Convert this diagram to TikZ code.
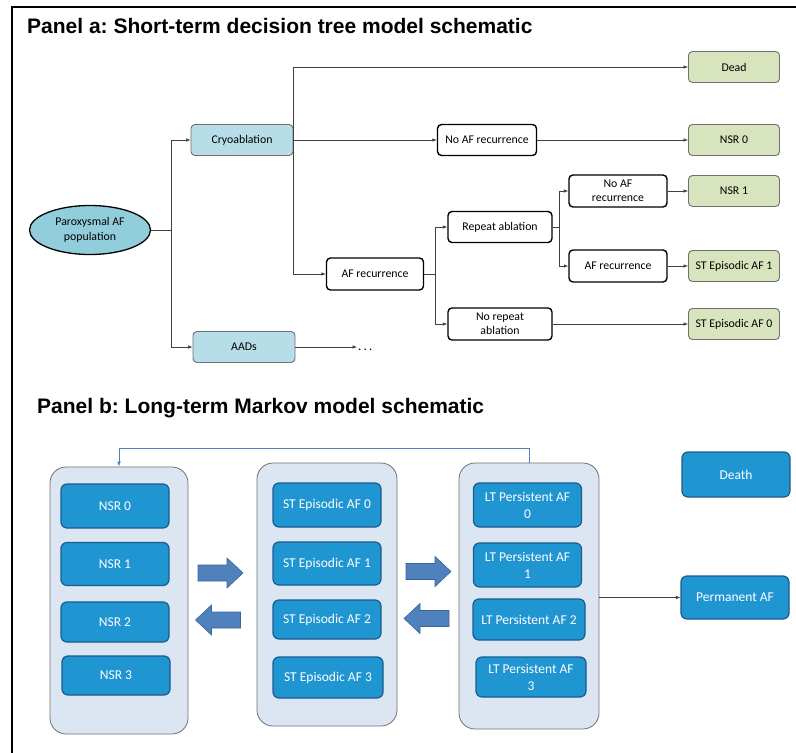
\documentclass[tikz,border=0pt]{standalone}
\usepackage{fontspec}
\setmainfont{Carlito}
\newfontfamily\titlefont{Liberation Sans}
\usetikzlibrary{arrows.meta,shapes.geometric}
\frenchspacing

\definecolor{popblue}{HTML}{92CDDC}
\definecolor{treeblue}{HTML}{B7DEE8}
\definecolor{outgreen}{HTML}{D7E4BD}
\definecolor{boxgrey}{HTML}{6F6F6F}
\definecolor{groupbg}{HTML}{DCE6F2}
\definecolor{statefill}{HTML}{1F95D2}
\definecolor{stateedge}{HTML}{1B5C8C}
\definecolor{bigarrow}{HTML}{4F81BD}
\definecolor{bigarrowedge}{HTML}{3A6596}

\tikzset{
  paneltitle/.style={anchor=west, inner sep=0pt, font=\titlefont\bfseries\fontsize{21}{24}\selectfont},
  treetext/.style={font=\fontsize{11.8}{14.5}\selectfont, align=center, inner sep=1pt},
  popnode/.style={ellipse, draw=black, line width=1.3pt, fill=popblue, treetext,
    minimum width=121pt, minimum height=49pt},
  armbox/.style={rectangle, rounded corners=4pt, draw=boxgrey, line width=0.9pt, fill=treeblue, treetext,
    minimum width=102pt, minimum height=31pt},
  eventbox/.style={rectangle, rounded corners=4pt, draw=black, line width=1.4pt, fill=white, treetext,
    minimum height=31pt},
  endbox/.style={rectangle, rounded corners=4pt, draw=boxgrey, line width=0.9pt, fill=outgreen, treetext,
    minimum width=91pt, minimum height=31pt},
  branch/.style={draw=black!75, line width=0.6pt, -{Latex[length=4.5pt,width=3.5pt]}},
  groupbox/.style={rectangle, rounded corners=16pt, draw=boxgrey, line width=0.8pt, fill=groupbg},
  statebox/.style={rectangle, rounded corners=6pt, draw=stateedge, line width=1.2pt, fill=statefill,
    text=white, font=\fontsize{13.5}{17}\selectfont, align=center, inner sep=1pt,
    minimum width=108pt, minimum height=42pt},
  feedback/.style={draw=bigarrow, line width=1pt, -{Latex[length=5pt,width=4pt]}},
  blockarrow/.style={fill=bigarrow, draw=bigarrowedge, line width=0.6pt},
  blockarr/.pic={
    \draw[blockarrow] (-22.5,-8) -- (6.5,-8) -- (6.5,-15) -- (22.5,0) -- (6.5,15) -- (6.5,8) -- (-22.5,8) -- cycle;
  }
}

\begin{document}
\begin{tikzpicture}[x=1pt, y=-1pt]
  \useasboundingbox (0,0) rectangle (796,753);
  % outer frame
  \draw[line width=2.4pt] (12,753) -- (12,7) -- (796,7);

  % Panel a: decision tree
  \node[paneltitle] (titlea) at (27,26) {Panel a: Short-term decision tree model schematic};

  \node[popnode] (pop) at (90,230) {Paroxysmal AF\\population};
  \node[armbox] (cryo) at (242,140) {Cryoablation};
  \node[armbox] (aads) at (244,347) {AADs};
  \node[treetext, font=\fontsize{13}{14}\selectfont, anchor=west] (dots) at (357,350) {.\,.\,.};

  \node[endbox] (dead) at (734,67) {Dead};
  \node[endbox] (nsrzero) at (734,140) {NSR 0};
  \node[endbox] (nsrone) at (734,191) {NSR 1};
  \node[endbox] (stone) at (734,266) {ST Episodic AF 1};
  \node[endbox] (stzero) at (734,324) {ST Episodic AF 0};

  \node[eventbox, minimum width=99pt] (noafa) at (487,140) {No AF recurrence};
  \node[eventbox, minimum width=97pt, minimum height=32pt] (afreca) at (375,274) {AF recurrence};
  \node[eventbox, minimum width=104pt] (repeat) at (500,227) {Repeat ablation};
  \node[eventbox, minimum width=104pt, minimum height=32pt] (norepeat) at (500,324) {No repeat\\ablation};
  \node[eventbox, minimum width=98pt, minimum height=32pt] (noafb) at (618,191) {No AF\\recurrence};
  \node[eventbox, minimum width=98pt, minimum height=32pt] (afrecb) at (618,266) {AF recurrence};

  \coordinate (splitarm) at (171,230);
  \coordinate (splitrec) at (435,274);
  \coordinate (splitrep) at (559,227);

  \draw[branch] (pop.east) -- (splitarm) |- (cryo.west);
  \draw[branch] (splitarm) |- (aads.west);
  \draw[branch] (aads.east) -- (aads.east -| dots.west);
  \draw[branch] (cryo.east) |- (dead.west);
  \draw[branch] (cryo.east) -- (noafa.west);
  \draw[branch] (cryo.east) |- (afreca.west);
  \draw[branch] (noafa.east) -- (nsrzero.west);
  \draw[branch] (afreca.east) -- (splitrec) |- (repeat.west);
  \draw[branch] (splitrec) |- (norepeat.west);
  \draw[branch] (repeat.east) -- (splitrep) |- (noafb.west);
  \draw[branch] (splitrep) |- (afrecb.west);
  \draw[branch] (noafb.east) -- (nsrone.west);
  \draw[branch] (afrecb.east) -- (stone.west);
  \draw[branch] (norepeat.east) -- (stzero.west);

  % Panel b: Markov model
  \node[paneltitle] (titleb) at (37,408) {Panel b: Long-term Markov model schematic};

  \node[groupbox, minimum width=138pt, minimum height=267pt] (nsrgroup) at (119,600.5) {};
  \node[groupbox, minimum width=140pt, minimum height=263pt] (stgroup) at (327,594.5) {};
  \node[groupbox, minimum width=140pt, minimum height=266pt] (ltgroup) at (529,596) {};

  \node[statebox, minimum height=44pt] (nsr0) at (115,506) {NSR 0};
  \node[statebox, minimum height=43pt] (nsr1) at (115,564) {NSR 1};
  \node[statebox, minimum height=40pt] (nsr2) at (115,622) {NSR 2};
  \node[statebox, minimum height=39pt] (nsr3) at (116,675.5) {NSR 3};

  \node[statebox, minimum height=44pt] (st0) at (327,505) {ST Episodic AF 0};
  \node[statebox, minimum height=43pt] (st1) at (327,563.5) {ST Episodic AF 1};
  \node[statebox, minimum height=39pt] (st2) at (327,619.5) {ST Episodic AF 2};
  \node[statebox, minimum height=41pt, minimum width=110pt] (st3) at (328,677.5) {ST Episodic AF 3};

  \node[statebox, minimum height=44pt] (lt0) at (527.5,505) {LT Persistent AF\\0};
  \node[statebox, minimum height=44pt] (lt1) at (527.5,565) {LT Persistent AF\\1};
  \node[statebox, minimum height=41pt, minimum width=112pt] (lt2) at (529,619.5) {LT Persistent AF 2};
  \node[statebox, minimum height=40pt, minimum width=110pt] (lt3) at (531,677) {LT Persistent AF\\3};

  \node[statebox, minimum height=45pt] (death) at (736,474.5) {Death};
  \node[statebox, minimum height=43pt] (permaf) at (735,597.5) {Permanent AF};

  \pic at (220.5,573) {blockarr};
  \pic[rotate=180] at (218,620) {blockarr};
  \pic at (428.5,571.5) {blockarr};
  \pic[rotate=180] at (426.5,618.5) {blockarr};

  \draw[feedback] (ltgroup.north) -- ++(0,-14) -| (nsrgroup.north);
  \draw[branch, line width=0.5pt] (ltgroup.east |- permaf.west) -- (permaf.west);
\end{tikzpicture}
\end{document}
